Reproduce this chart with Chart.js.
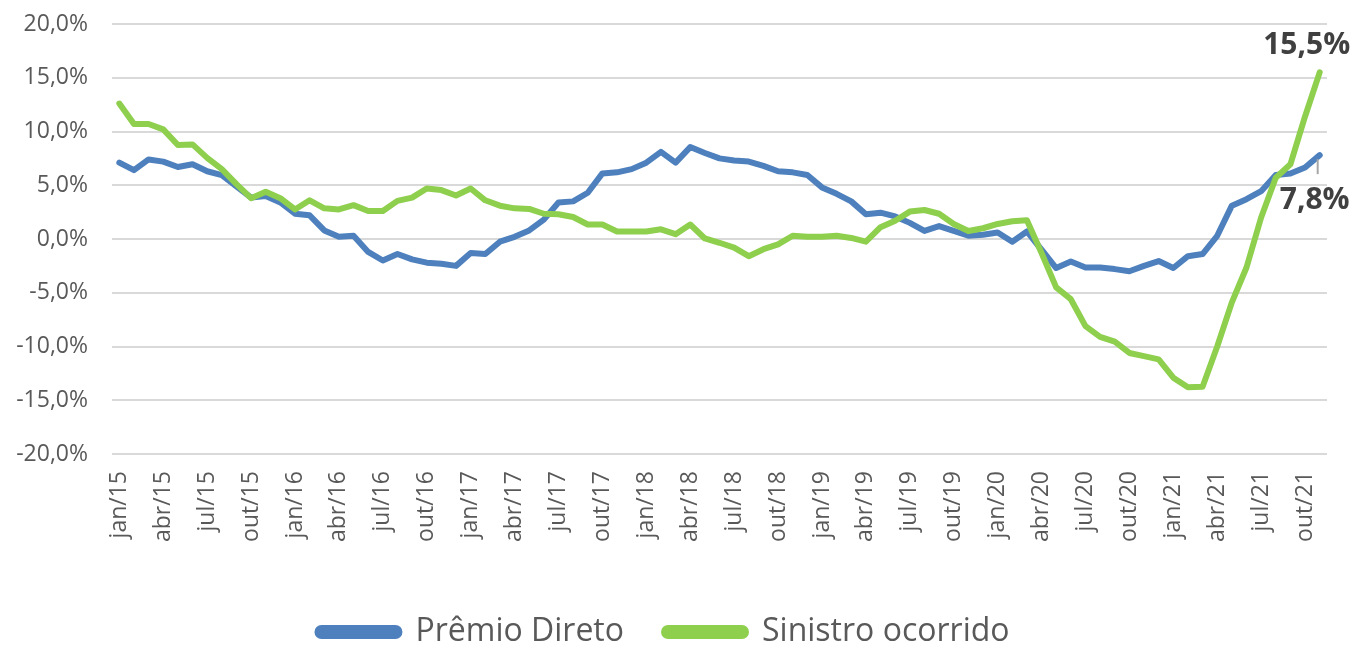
<!DOCTYPE html>
<html>
<head>
<meta charset="utf-8">
<script src="https://cdn.jsdelivr.net/npm/chart.js@4.4.1/dist/chart.umd.min.js"></script>
<style>
    html, body { margin: 0; padding: 0; background: #fff; overflow: hidden; }
    #wrap { width: 1367px; height: 648px; position: relative; }
</style>
</head>
<body>
<div id="wrap"><canvas id="grafico"></canvas></div>
<script>
// meses de jan/15 a nov/21
const meses = ['jan', 'fev', 'mar', 'abr', 'mai', 'jun', 'jul', 'ago', 'set', 'out', 'nov', 'dez'];
const anos = ['15', '16', '17', '18', '19', '20', '21'];

const premioDireto = [
    7.1, 6.4, 7.4, 7.2, 6.7, 6.95, 6.3, 5.95, 4.9, 3.85, 4.0, 3.4,
    2.35, 2.2, 0.8, 0.2, 0.3, -1.2, -2.0, -1.4, -1.9, -2.2, -2.3, -2.5,
    -1.3, -1.4, -0.25, 0.2, 0.8, 1.8, 3.4, 3.5, 4.3, 6.1, 6.2, 6.5,
    7.1, 8.1, 7.1, 8.55, 8.0, 7.5, 7.3, 7.2, 6.8, 6.3, 6.2, 5.95,
    4.8, 4.2, 3.5, 2.3, 2.45, 2.1, 1.5, 0.75, 1.2, 0.75, 0.3, 0.4,
    0.6, -0.25, 0.7, -1.0, -2.7, -2.1, -2.65, -2.65, -2.8, -3.0, -2.5, -2.05,
    -2.7, -1.6, -1.4, 0.3, 3.1, 3.7, 4.45, 5.95, 6.1, 6.65, 7.8
];

const sinistroOcorrido = [
    12.6, 10.7, 10.7, 10.2, 8.75, 8.8, 7.55, 6.5, 5.1, 3.8, 4.4, 3.8,
    2.75, 3.6, 2.85, 2.75, 3.15, 2.6, 2.6, 3.55, 3.85, 4.7, 4.55, 4.05,
    4.7, 3.6, 3.1, 2.85, 2.8, 2.35, 2.3, 2.05, 1.35, 1.35, 0.7, 0.7,
    0.7, 0.9, 0.45, 1.35, 0.05, -0.35, -0.8, -1.6, -0.95, -0.5, 0.3, 0.2,
    0.2, 0.3, 0.1, -0.25, 1.1, 1.7, 2.55, 2.7, 2.35, 1.4, 0.75, 1.0,
    1.4, 1.65, 1.75, -1.3, -4.5, -5.6, -8.1, -9.1, -9.55, -10.6, -10.9, -11.2,
    -12.9, -13.8, -13.75, -10.0, -5.9, -2.65, 2.0, 5.7, 6.95, 11.4, 15.5
];

const rotulos = [];
anos.forEach(a => {
    meses.forEach(m => {
        if (rotulos.length < premioDireto.length) rotulos.push(`${m}/${a}`);
    });
});

const fonte = "'Open Sans', 'Noto Sans', sans-serif";
const corTexto = '#595959';

const formatoPct = v => v.toFixed(1).replace('.', ',') + '%';

// rotulos do ultimo ponto de cada serie
const rotuloFinal = {
    id: 'rotuloFinal',
    afterDatasetsDraw(chart) {
        const ctx = chart.ctx;
        const last = premioDireto.length - 1;
        const pVerde = chart.getDatasetMeta(1).data[last];
        const pAzul = chart.getDatasetMeta(0).data[last];
        ctx.save();
        ctx.font = `bold 30px ${fonte}`;
        ctx.fillStyle = '#404040';
        ctx.textAlign = 'center';
        ctx.textBaseline = 'alphabetic';
        ctx.fillText(formatoPct(sinistroOcorrido[last]), pVerde.x - 13, pVerde.y - 18);
        ctx.fillText(formatoPct(premioDireto[last]), pAzul.x - 5, pAzul.y + 54);
        ctx.strokeStyle = '#a6a6a6';
        ctx.lineWidth = 2;
        ctx.beginPath();
        ctx.moveTo(pAzul.x - 2, pAzul.y + 4);
        ctx.lineTo(pAzul.x - 2, pAzul.y + 19);
        ctx.stroke();
        ctx.restore();
    }
};

const ctx = document.getElementById('grafico').getContext('2d');
new Chart(ctx, {
    type: 'line',
    data: {
        labels: rotulos,
        datasets: [
            {
                label: 'Prêmio Direto',
                data: premioDireto,
                borderColor: '#4e80bd',
                backgroundColor: '#4e80bd',
                borderWidth: 6,
                pointRadius: 0,
                tension: 0,
                borderJoinStyle: 'round',
                borderCapStyle: 'round',
                order: 1
            },
            {
                label: 'Sinistro ocorrido',
                data: sinistroOcorrido,
                borderColor: '#8fcf4e',
                backgroundColor: '#8fcf4e',
                borderWidth: 6,
                pointRadius: 0,
                tension: 0,
                borderJoinStyle: 'round',
                borderCapStyle: 'round',
                order: 0
            }
        ]
    },
    options: {
        responsive: true,
        maintainAspectRatio: false,
        animation: false,
        layout: {
            padding: { top: 24, right: 40, left: 0, bottom: -10 }
        },
        plugins: {
            tooltip: { enabled: false },
            legend: {
                position: 'bottom',
                labels: {
                    boxWidth: 82,
                    boxHeight: 8,
                    useBorderRadius: true,
                    borderRadius: 4,
                    padding: 40,
                    color: corTexto,
                    font: { family: fonte, size: 32 },
                    sort: (a, b) => a.datasetIndex - b.datasetIndex
                }
            }
        },
        scales: {
            x: {
                offset: true,
                grid: { display: false, drawTicks: false },
                border: { display: false },
                ticks: {
                    autoSkip: false,
                    maxRotation: 90,
                    minRotation: 90,
                    padding: 17,
                    color: corTexto,
                    font: { family: fonte, size: 23 },
                    callback: function(val, i) {
                        return i % 3 === 0 ? rotulos[i] : '';
                    }
                },
                afterFit: function(scale) {
                    scale.height = 122;
                }
            },
            y: {
                min: -20,
                max: 20,
                grid: { color: '#d9d9d9', lineWidth: 2, drawTicks: false },
                border: { display: false },
                ticks: {
                    stepSize: 5,
                    padding: 24,
                    color: corTexto,
                    font: { family: fonte, size: 23 },
                    callback: v => formatoPct(v)
                },
                afterFit: function(scale) {
                    scale.width = 112;
                    scale.paddingTop = 0;
                    scale.paddingBottom = 0;
                }
            }
        }
    },
    plugins: [rotuloFinal]
});
</script>
</body>
</html>
